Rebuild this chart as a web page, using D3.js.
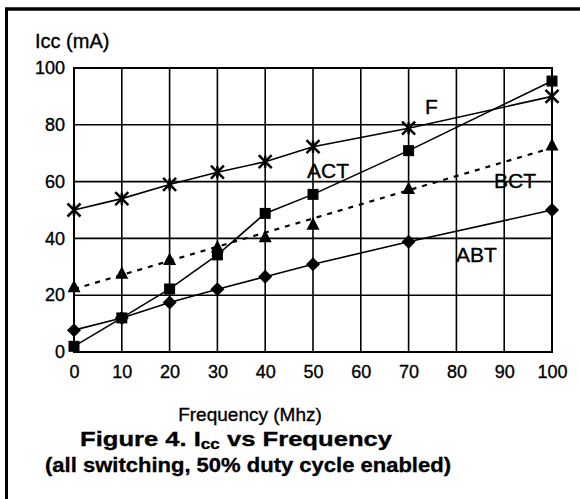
<!DOCTYPE html>
<html>
<head>
    <meta charset="utf-8">
    <script src="https://d3js.org/d3.v7.min.js"></script>
    <style>
        body {
            margin: 0;
            background: #fff;
            font-family: "Liberation Sans", Arial, sans-serif;
        }
        svg text {
            stroke: #000;
            stroke-width: 0.35px;
        }
        .grid line {
            stroke: #000;
            stroke-width: 1.6px;
        }
        .axis text {
            font-size: 18px;
            fill: #000;
        }
        .series {
            fill: none;
            stroke: #000;
            stroke-width: 1.6px;
        }
        .trend {
            fill: none;
            stroke: #000;
            stroke-width: 2.2px;
            stroke-dasharray: 5, 6;
        }
        .lbl {
            font-size: 21px;
            fill: #000;
        }
    </style>
</head>
<body>
    <svg width="580" height="499"></svg>
    <script>
        // data
        var freq = [0, 10, 20, 30, 40, 50, 70, 100];
        var fVals = [50, 54, 59, 63.3, 67, 72.3, 78.8, 90];
        var actVals = [2, 12, 22.2, 34.2, 48.8, 55.5, 70.9, 95.4];
        var bctVals = [23, 27.7, 32.6, 37, 40.6, 45, 57.6, 72.9];
        var abtVals = [7.7, 12, 17.4, 22.1, 26.5, 30.9, 38.8, 50];
        var xTicks = [0, 10, 20, 30, 40, 50, 60, 70, 80, 90, 100];
        var yTicks = [0, 20, 40, 60, 80, 100];

        var svg = d3.select("svg");
        var plot = { left: 74, right: 552, top: 68, bottom: 352 };

        var x = d3.scaleLinear().domain([0, 100]).range([plot.left, plot.right]);
        var y = d3.scaleLinear().domain([0, 100]).range([plot.bottom, plot.top]);

        // outer frame (only top and left edges show in the crop)
        svg.append("line").attr("x1", 5).attr("x2", 580).attr("y1", 9).attr("y2", 9)
            .attr("stroke", "#000").attr("stroke-width", 3.5);
        svg.append("line").attr("x1", 6.5).attr("x2", 6.5).attr("y1", 8).attr("y2", 499)
            .attr("stroke", "#000").attr("stroke-width", 3);

        // grid
        var grid = svg.append("g").attr("class", "grid");
        grid.selectAll(".vx").data(xTicks).enter().append("line")
            .attr("x1", function (d) { return x(d); })
            .attr("x2", function (d) { return x(d); })
            .attr("y1", plot.top).attr("y2", plot.bottom);
        grid.selectAll(".hy").data(yTicks).enter().append("line")
            .attr("y1", function (d) { return y(d); })
            .attr("y2", function (d) { return y(d); })
            .attr("x1", plot.left).attr("x2", plot.right);
        svg.append("rect")
            .attr("x", plot.left).attr("y", plot.top)
            .attr("width", plot.right - plot.left).attr("height", plot.bottom - plot.top)
            .attr("fill", "none").attr("stroke", "#000").attr("stroke-width", 2);

        // axes (labels only, lines come from the grid)
        svg.append("g")
            .attr("class", "axis")
            .attr("transform", "translate(0," + plot.bottom + ")")
            .call(d3.axisBottom(x).tickValues(xTicks).tickSize(0).tickPadding(13))
            .call(function (g) { g.select(".domain").remove(); })
            .selectAll("text").attr("font-family", null);
        svg.append("g")
            .attr("class", "axis")
            .attr("transform", "translate(" + plot.left + ",0)")
            .call(d3.axisLeft(y).tickValues(yTicks).tickSize(0).tickPadding(9))
            .call(function (g) { g.select(".domain").remove(); })
            .selectAll("text").attr("font-family", null);

        svg.append("text").attr("x", 35).attr("y", 48)
            .attr("font-size", 20).text("Icc (mA)");
        svg.append("text").attr("x", 250).attr("y", 421)
            .attr("text-anchor", "middle").attr("font-size", 19).text("Frequency (Mhz)");

        // caption, stretched to the widths of the scanned original
        var cap = svg.append("text").attr("x", 80).attr("y", 446)
            .attr("font-size", 21).attr("font-weight", "bold")
            .attr("textLength", 312).attr("lengthAdjust", "spacingAndGlyphs");
        cap.append("tspan").text("Figure 4. I");
        cap.append("tspan").attr("font-size", 14).attr("dy", 3).text("cc");
        cap.append("tspan").attr("dy", -3).text(" vs Frequency");
        svg.append("text").attr("x", 45).attr("y", 472)
            .attr("font-size", 21).attr("font-weight", "bold")
            .attr("textLength", 406).attr("lengthAdjust", "spacingAndGlyphs")
            .text("(all switching, 50% duty cycle enabled)");

        // lines
        function pts(vals) {
            return freq.map(function (f, i) { return [f, vals[i]]; });
        }
        var line = d3.line()
            .x(function (d) { return x(d[0]); })
            .y(function (d) { return y(d[1]); });

        svg.append("path").datum(pts(fVals)).attr("class", "series").attr("d", line);
        svg.append("path").datum(pts(actVals)).attr("class", "series").attr("d", line);
        svg.append("path").datum(pts(abtVals)).attr("class", "series").attr("d", line);

        // BCT linear trend line (dashed)
        var mx = d3.mean(freq), my = d3.mean(bctVals);
        var sxy = d3.sum(freq, function (f, i) { return (f - mx) * (bctVals[i] - my); });
        var sxx = d3.sum(freq, function (f) { return (f - mx) * (f - mx); });
        var slope = sxy / sxx, icpt = my - slope * mx;
        svg.append("path").datum([[0, icpt], [100, icpt + slope * 100]])
            .attr("class", "trend").attr("d", line);

        // markers
        function marker(vals, shape, cls) {
            var g = svg.append("g").attr("class", cls);
            g.selectAll("path").data(pts(vals)).enter().append("path")
                .attr("transform", function (d) { return "translate(" + x(d[0]) + "," + y(d[1]) + ")"; })
                .attr("d", shape)
                .attr("fill", "#000")
                .attr("stroke", "#000")
                .attr("stroke-width", shape === starPath ? 2.5 : 0);
        }
        var sqPath = "M-5.5,-5.5H5.5V5.5H-5.5Z";
        var triPath = "M0,-7L6.5,5.5H-6.5Z";
        var diaPath = "M0,-7L7,0L0,7L-7,0Z";
        var starPath = "M-6.5,-6.5L6.5,6.5M-6.5,6.5L6.5,-6.5M0,-6V6";

        marker(fVals, starPath, "m-f");
        marker(actVals, sqPath, "m-act");
        marker(bctVals, triPath, "m-bct");
        marker(abtVals, diaPath, "m-abt");

        // series labels
        var labels = [
            { t: "F", x: 425, y: 114 },
            { t: "ACT", x: 307, y: 178 },
            { t: "BCT", x: 494, y: 188 },
            { t: "ABT", x: 456, y: 262 }
        ];
        svg.selectAll(".lbl").data(labels).enter().append("text")
            .attr("class", "lbl")
            .attr("x", function (d) { return d.x; })
            .attr("y", function (d) { return d.y; })
            .text(function (d) { return d.t; });
    </script>
</body>
</html>
